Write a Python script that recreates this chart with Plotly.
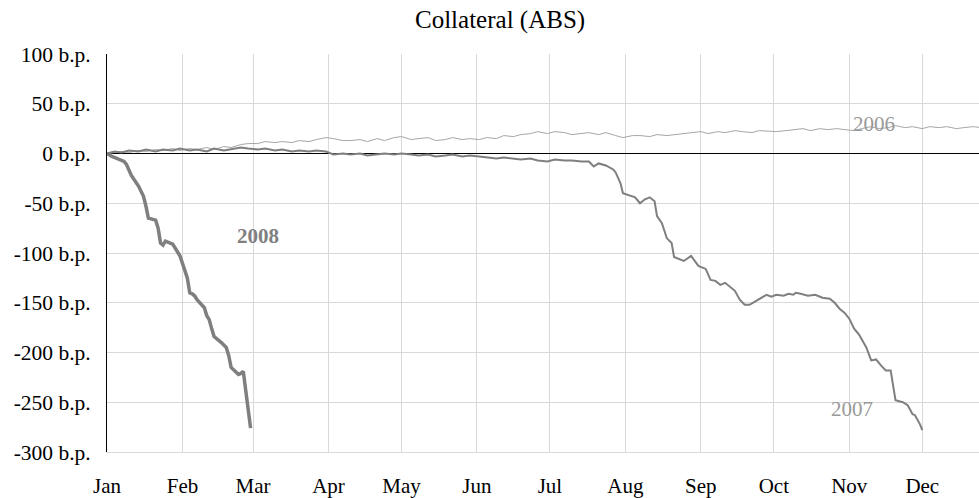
import datetime as dt
import plotly.graph_objects as go

# ---- data (day-of-year offsets from Jan 1, values in basis points) ----
days_2006 = [0,3,6,9,13,16,20,23,27,30,34,37,41,44,48,51,55,58,62,65,69,72,76,79,83,86,90,93,97,100,
             104,107,111,114,118,121,125,128,132,135,139,142,146,149,153,156,160,163,167,170,174,177,181,184,
             188,191,195,198,202,205,209,212,216,219,223,226,230,233,237,240,244,247,251,254,258,261,265,268,
             272,275,279,282,286,289,293,296,300,303,307,310,314,317,321,324,328,331,335,338,342,345,349,352,
             356,359,363]
vals_2006 = [0,1,2,1,3,2,4,3,5,3,5,4,6,4,7,6,9,10,10,12,11,12,11,13,12,14,16,15,13,13,
             14,12,15,13,16,17,14,15,16,13,14,16,14,15,14,16,15,18,17,19,20,22,20,22,
             21,19,20,21,19,21,18,16,18,18,17,19,18,19,20,21,22,20,22,21,23,22,21,23,
             22,22,23,24,25,23,25,24,25,24,23,25,27,25,26,28,26,27,25,27,26,27,25,26,
             27,26,25]

days_2007 = [0,3,6,9,13,16,20,23,27,30,34,37,41,44,48,51,55,58,62,65,69,72,76,79,83,86,90,93,97,100,
             104,107,111,114,118,121,125,128,132,135,139,142,146,149,153,156,160,163,167,170,174,177,181,184,
             188,191,195,198,200,202,205,208,209,211,212,215,217,219,221,223,225,226,228,230,232,233,235,237,
             240,243,246,248,250,252,254,258,260,262,264,266,268,271,273,275,278,280,282,283,285,288,291,294,
             297,299,301,303,305,307,309,311,312,314,316,318,320,322,323,324,327,329,331,332,334,335]
vals_2007 = [0,2,1,3,2,4,2,4,3,5,3,4,2,5,3,4,6,5,4,5,3,4,2,3,2,3,2,-1,0,-1,
             0,-2,-1,0,-1,0,-1,-2,-1,-3,-2,-1,-3,-2,-3,-4,-5,-4,-5,-6,-5,-7,-8,-6,
             -7,-7,-8,-8,-13,-10,-12,-16,-19,-30,-40,-42,-44,-50,-46,-44,-48,-63,-70,-85,-90,-104,-106,-108,
             -103,-113,-116,-127,-128,-132,-130,-138,-147,-152,-152,-149,-146,-142,-144,-142,-143,-141,-142,-140,-141,-143,-142,-145,
             -146,-150,-156,-160,-166,-176,-182,-190,-195,-208,-207,-213,-218,-218,-232,-248,-250,-253,-262,-263,-272,-278]

days_2008 = [0,1,2,3,6,7,8,9,10,13,14,15,16,17,20,21,22,23,24,27,28,29,30,33,34,35,36,37,40,41,
             42,43,44,47,48,49,50,51,54,55,56,57,58,59]
vals_2008 = [0,-2,-3,-4,-7,-8,-11,-16,-22,-33,-38,-43,-53,-65,-67,-75,-90,-92,-88,-91,-95,-100,-103,-125,-140,-141,-143,-147,-155,-163,
             -167,-176,-184,-190,-192,-195,-203,-215,-222,-221,-219,-240,-255,-276]

month_labels = ["Jan","Feb","Mar","Apr","May","Jun","Jul","Aug","Sep","Oct","Nov","Dec"]
y_tick_vals = [-300, -250, -200, -150, -100, -50, 0, 50, 100]
y_tick_labels = ["-300 b.p.", "-250 b.p.", "-200 b.p.", "-150 b.p.", "-100 b.p.",
                 "-50 b.p.", "0 b.p.", "50 b.p.", "100 b.p."]

base = dt.datetime(2008, 1, 1)
def to_dates(days):
    return [base + dt.timedelta(days=d) for d in days]

FONT = "Liberation Serif, Times New Roman, serif"

fig = go.Figure()
fig.add_trace(go.Scatter(x=to_dates(days_2006), y=vals_2006, mode="lines", name="2006",
                         line=dict(color="#a6a6a6", width=1)))
fig.add_trace(go.Scatter(x=to_dates(days_2007), y=vals_2007, mode="lines", name="2007",
                         line=dict(color="#7f7f7f", width=2)))
fig.add_trace(go.Scatter(x=to_dates(days_2008), y=vals_2008, mode="lines", name="2008",
                         line=dict(color="#7f7f7f", width=3.5)))

xend = base + dt.timedelta(days=358.3)
tickvals = [dt.datetime(2008, m, 1) for m in range(1, 13)]

fig.update_layout(
    width=979, height=498,
    margin=dict(l=107, r=0, t=54, b=42),
    paper_bgcolor="white", plot_bgcolor="white",
    showlegend=False,
    font=dict(family=FONT, size=21, color="black"),
    xaxis=dict(type="date", range=[base, xend], tickvals=tickvals, ticktext=month_labels,
               showgrid=True, gridcolor="#d9d9d9", gridwidth=1,
               ticks="outside", ticklen=15, tickcolor="rgba(0,0,0,0)",
               showline=True, linecolor="#d9d9d9", linewidth=1, zeroline=False,
               tickfont=dict(family=FONT, size=21, color="black")),
    yaxis=dict(range=[-300, 100], tickvals=y_tick_vals, ticktext=y_tick_labels,
               showgrid=True, gridcolor="#d9d9d9", gridwidth=1,
               zeroline=True, zerolinecolor="black", zerolinewidth=1,
               showline=True, linecolor="black", linewidth=1,
               ticks="outside", ticklen=11, tickcolor="rgba(0,0,0,0)",
               tickfont=dict(family=FONT, size=21.5, color="black")),
    annotations=[
        dict(text="Collateral (ABS)", xref="paper", yref="paper", x=(500-107)/872, y=1,
             yshift=34, showarrow=False, xanchor="center", yanchor="middle",
             font=dict(family=FONT, size=25, color="black")),
        dict(text="<b>2008</b>", x=base + dt.timedelta(days=62), y=-83, showarrow=False,
             font=dict(family=FONT, size=21, color="#7f7f7f")),
        dict(text="2007", x=base + dt.timedelta(days=306), y=-257, showarrow=False,
             font=dict(family=FONT, size=21, color="#999999")),
        dict(text="2006", x=base + dt.timedelta(days=315), y=30, showarrow=False,
             font=dict(family=FONT, size=21, color="#999999")),
    ],
)

fig.write_html("out.html", config={"displayModeBar": False},
               post_script="document.body.style.margin='0px';document.body.style.overflow='hidden';")
